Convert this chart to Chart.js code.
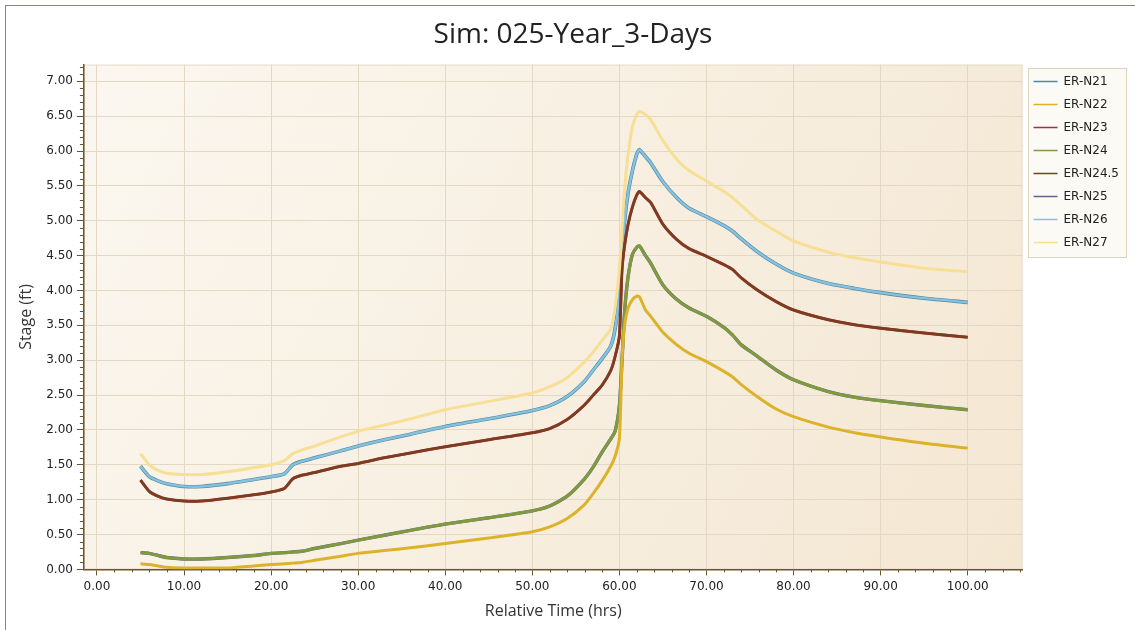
<!DOCTYPE html>
<html>
<head>
<meta charset="utf-8">
<title>Sim: 025-Year_3-Days</title>
<script src="https://cdn.jsdelivr.net/npm/chart.js@4.4.1/dist/chart.umd.min.js"></script>
<style>
  html, body { margin: 0; padding: 0; background: #fff; }
  #wrap { position: relative; width: 1135px; height: 630px; overflow: hidden; }
  #frame { position: absolute; left: 5px; top: 5px; width: 1200px; height: 700px;
           border-left: 1px solid #8d8478; border-top: 1px solid #8d8478; }
  canvas { position: absolute; left: 0; top: 0; }
</style>
</head>
<body>
<div id="wrap">
  <div id="frame"></div>
  <canvas id="grafikStage" width="1135" height="630"></canvas>
</div>
<script>
// -------- DATA --------
const chartTitle = "Sim: 025-Year_3-Days";
const xTitle = "Relative Time (hrs)";
const yTitle = "Stage (ft)";

// relative time, hrs
const times = [5, 6, 7, 8, 10, 12, 15, 18, 20, 21.5, 22.5, 23.5, 25, 28, 30, 33, 36, 40, 45, 50,
  52, 54, 56, 57, 58, 59, 59.5, 60, 60.3, 60.6, 61, 61.5, 62, 62.3, 63, 63.6, 65, 66.6, 68, 70,
  72, 73, 74, 75.8, 78, 80, 84, 87, 90, 95, 100];

// stage, ft
const stageN21 = [1.48, 1.33, 1.27, 1.23, 1.19, 1.19, 1.23, 1.29, 1.33, 1.37, 1.50, 1.55, 1.60, 1.70, 1.77, 1.86, 1.94, 2.05, 2.16, 2.28,
  2.35, 2.48, 2.70, 2.86, 3.02, 3.20, 3.45, 3.95, 4.50, 5.00, 5.40, 5.72, 5.96, 6.02, 5.92, 5.83, 5.56, 5.33, 5.18, 5.06,
  4.93, 4.85, 4.74, 4.56, 4.38, 4.25, 4.10, 4.03, 3.97, 3.89, 3.83];
const stageN22 = [0.08, 0.07, 0.05, 0.03, 0.02, 0.02, 0.02, 0.05, 0.07, 0.08, 0.09, 0.10, 0.13, 0.19, 0.23, 0.27, 0.31, 0.37, 0.45, 0.54,
  0.61, 0.73, 0.93, 1.09, 1.27, 1.48, 1.62, 1.88, 3.00, 3.50, 3.75, 3.87, 3.92, 3.91, 3.72, 3.63, 3.40, 3.22, 3.10, 2.98,
  2.84, 2.76, 2.65, 2.48, 2.30, 2.19, 2.04, 1.96, 1.90, 1.81, 1.74];
const stageN24 = [0.24, 0.23, 0.20, 0.17, 0.15, 0.15, 0.17, 0.20, 0.23, 0.24, 0.25, 0.26, 0.30, 0.37, 0.42, 0.49, 0.56, 0.65, 0.74, 0.84,
  0.91, 1.05, 1.30, 1.47, 1.68, 1.87, 1.98, 2.35, 3.00, 3.70, 4.20, 4.52, 4.62, 4.64, 4.50, 4.39, 4.08, 3.87, 3.75, 3.63,
  3.47, 3.36, 3.22, 3.06, 2.86, 2.72, 2.55, 2.47, 2.42, 2.35, 2.29];
const stageN24_5 = [1.28, 1.12, 1.05, 1.01, 0.98, 0.98, 1.02, 1.07, 1.11, 1.16, 1.30, 1.35, 1.39, 1.48, 1.52, 1.60, 1.67, 1.76, 1.86, 1.96,
  2.02, 2.15, 2.36, 2.50, 2.64, 2.85, 3.05, 3.35, 4.30, 4.65, 4.95, 5.20, 5.37, 5.42, 5.33, 5.26, 4.95, 4.73, 4.60, 4.49,
  4.37, 4.30, 4.18, 4.01, 3.84, 3.72, 3.58, 3.51, 3.46, 3.39, 3.33];
const stageN27 = [1.66, 1.50, 1.42, 1.38, 1.36, 1.36, 1.40, 1.46, 1.50, 1.56, 1.66, 1.71, 1.77, 1.90, 1.98, 2.07, 2.16, 2.29, 2.41, 2.53,
  2.62, 2.75, 2.98, 3.12, 3.28, 3.45, 3.75, 4.30, 4.90, 5.45, 5.95, 6.35, 6.53, 6.57, 6.52, 6.45, 6.15, 5.88, 5.72, 5.57,
  5.42, 5.33, 5.22, 5.02, 4.85, 4.71, 4.55, 4.47, 4.41, 4.32, 4.27];
// these nodes sit exactly under another line in the picture
const stageN23 = stageN24_5;
const stageN25 = stageN24;
const stageN26 = stageN21;

const seriesNames = ["ER-N21", "ER-N22", "ER-N23", "ER-N24", "ER-N24.5", "ER-N25", "ER-N26", "ER-N27"];
const seriesValues = [stageN21, stageN22, stageN23, stageN24, stageN24_5, stageN25, stageN26, stageN27];

const xTicks = [0, 10, 20, 30, 40, 50, 60, 70, 80, 90, 100];
const yTicks = [0, 0.5, 1, 1.5, 2, 2.5, 3, 3.5, 4, 4.5, 5, 5.5, 6, 6.5, 7];

// -------- STYLE --------
const warna = ["#4f88a6", "#dcb22a", "#a8303e", "#7f9b3e", "#7a3e1e", "#66668a", "#86c2dd", "#f7df95"];
const tebal = [3.6, 3, 3, 3, 2.6, 3.4, 2.4, 3];
const urutan = [10, 4, 8, 5, 7, 6, 9, 3];   // lower = drawn on top
const axisColor = "#6b5630";
const gridColor = "#e2d8c3";

// -------- PLUGINS --------
const plotBackground = {
  id: "plotBackground",
  beforeDraw(chart) {
    const { ctx, chartArea: a } = chart;
    const g = ctx.createLinearGradient(a.left, a.top, a.right, a.bottom);
    g.addColorStop(0, "#fbf7f0");
    g.addColorStop(1, "#f4e7d2");
    ctx.save();
    ctx.fillStyle = g;
    ctx.fillRect(a.left, a.top, a.right - a.left, a.bottom - a.top);
    ctx.strokeStyle = "#e6dccb";
    ctx.lineWidth = 1;
    ctx.strokeRect(a.left + 0.5, a.top + 0.5, a.right - a.left - 1, a.bottom - a.top - 1);
    ctx.restore();
  }
};

const minorTicks = {
  id: "minorTicks",
  afterDraw(chart) {
    const { ctx, scales: { x, y } } = chart;
    ctx.save();
    ctx.strokeStyle = axisColor;
    ctx.lineWidth = 1;
    ctx.beginPath();
    for (let v = 0; v <= x.max + 1e-9; v += 2) {
      if (v % 10 === 0) continue;
      const px = Math.round(x.getPixelForValue(v)) + 0.5;
      ctx.moveTo(px, x.top);
      ctx.lineTo(px, x.top + 3);
    }
    for (let i = 0; i / 10 <= y.max + 1e-9; i++) {
      if (i % 5 === 0) continue;
      const py = Math.round(y.getPixelForValue(i / 10)) + 0.5;
      ctx.moveTo(y.right, py);
      ctx.lineTo(y.right - 4, py);
    }
    ctx.stroke();
    ctx.restore();
  }
};

const legendBox = {
  id: "legendBox",
  afterDraw(chart) {
    const boxes = chart.legend && chart.legend.legendHitBoxes;
    if (!boxes || !boxes.length) return;
    const l = Math.min(...boxes.map(b => b.left)) - 6;
    const t = Math.min(...boxes.map(b => b.top)) - 8;
    const r = Math.max(...boxes.map(b => b.left + b.width)) + 7;
    const btm = Math.max(...boxes.map(b => b.top + b.height)) + 8;
    const ctx = chart.ctx;
    ctx.save();
    ctx.fillStyle = "rgba(250,246,238,0.6)";
    ctx.globalCompositeOperation = "destination-over";
    ctx.fillRect(l, t, r - l, btm - t);
    ctx.globalCompositeOperation = "source-over";
    ctx.strokeStyle = "#ddd2bf";
    ctx.lineWidth = 1;
    ctx.strokeRect(Math.round(l) + 0.5, Math.round(t) + 0.5, Math.round(r - l), Math.round(btm - t));
    ctx.restore();
  }
};

// -------- CHART --------
const datasets = seriesNames.map((nama, i) => ({
  label: nama,
  data: times.map((t, k) => ({ x: t, y: seriesValues[i][k] })),
  borderColor: warna[i],
  backgroundColor: warna[i],
  borderWidth: tebal[i],
  order: urutan[i],
  pointRadius: 0,
  tension: 0.2,
  fill: false
}));

new Chart(document.getElementById("grafikStage"), {
  type: "line",
  data: { datasets },
  options: {
    responsive: false,
    animation: false,
    events: [],
    layout: { padding: { left: 17, right: 6, top: 6, bottom: 9 } },
    plugins: {
      title: {
        display: true,
        text: chartTitle,
        color: "#222",
        font: { family: "'Open Sans', 'DejaVu Sans', sans-serif", size: 28, weight: "normal" },
        padding: { top: 12, bottom: 13 }
      },
      legend: {
        display: true,
        position: "right",
        align: "start",
        fullSize: false,
        labels: {
          color: "#222",
          font: { family: "'DejaVu Sans', sans-serif", size: 12 },
          usePointStyle: true,
          pointStyle: "line",
          pointStyleWidth: 24,
          padding: 11,
          sort: (a, b) => a.datasetIndex - b.datasetIndex,
          generateLabels(chart) {
            return Chart.defaults.plugins.legend.labels.generateLabels(chart).map(it => {
              it.lineWidth = 1.5;
              it.strokeStyle = warna[it.datasetIndex];
              return it;
            });
          }
        }
      },
      tooltip: { enabled: false }
    },
    scales: {
      x: {
        type: "linear",
        min: -1.5,
        max: 106.3,
        afterBuildTicks: scale => { scale.ticks = xTicks.map(v => ({ value: v })); },
        ticks: {
          color: "#222",
          font: { family: "'DejaVu Sans', sans-serif", size: 12 },
          padding: 4,
          maxRotation: 0,
          autoSkip: false,
          callback: v => Number(v).toFixed(2)
        },
        grid: { color: gridColor, tickColor: axisColor, tickLength: 6, lineWidth: 1 },
        border: { color: axisColor, width: 1.5 },
        title: {
          display: true,
          text: xTitle,
          color: "#333",
          font: { family: "'Open Sans', 'DejaVu Sans', sans-serif", size: 16 },
          padding: { top: 4, bottom: 0 }
        }
      },
      y: {
        type: "linear",
        min: 0,
        max: 7.24,
        afterBuildTicks: scale => { scale.ticks = yTicks.map(v => ({ value: v })); },
        ticks: {
          color: "#222",
          font: { family: "'DejaVu Sans', sans-serif", size: 12 },
          padding: 4,
          autoSkip: false,
          callback: v => Number(v).toFixed(2)
        },
        grid: { color: gridColor, tickColor: axisColor, tickLength: 7, lineWidth: 1 },
        border: { color: axisColor, width: 1.5 },
        title: {
          display: true,
          text: yTitle,
          color: "#333",
          font: { family: "'Open Sans', 'DejaVu Sans', sans-serif", size: 16 },
          padding: { top: 0, bottom: 6 }
        }
      }
    }
  },
  plugins: [plotBackground, minorTicks, legendBox]
});
</script>
</body>
</html>
